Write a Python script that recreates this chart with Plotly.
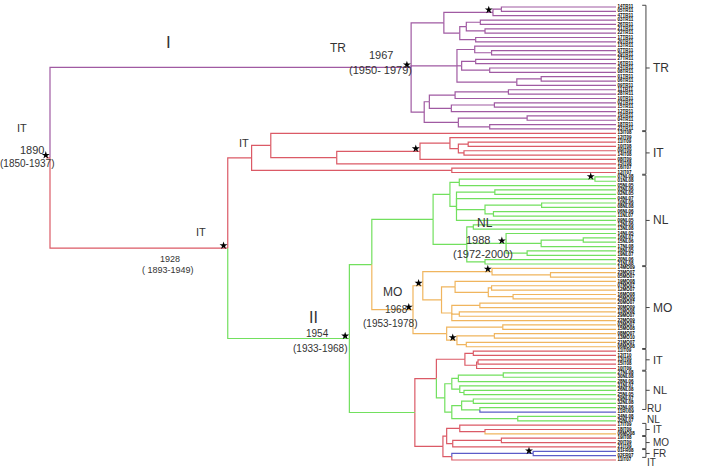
import re
import plotly.graph_objects as go

W, H = 721, 469
TIP_YEAR = 2011

# clade trees: "(children)YEAR[*][colour]"; L = tip, optional colour letter
tr_tree = ("((((L,L)1986.5,L)1984.7*,(((L,L)1982,(L,L)1983)1979,(L,L)1981)1977.6)1974.2,"
           "((L,(L,L)1984.4)1980.8,((L,L)1981,(L,L)1984)1978,((L,L)1995,L)1989.8)1977,"
           "((((L,L)1988,L)1976.6,((L,L)1985,L)1975.8)1971.1,((L,L)1992,(L,L)1984)1977.3)1970)1967.2*p")
it1_tree = "((L,(((L,((L,L)1979.4,(L,L)1978.5)1977.3)1975.5,L)1969.1*,L)1951.3)1937.2,(L,L)1975.9)1933.1r"
nl_tree = ("((((L,L)2006.5*,L)1977.5,((L,L)1985.1,L,((L,L)1995.1,(L,L)1984.8)1983,L)1976.9)1975.5,"
           "((L,L)1980.5,(L,((L,L)2004,L)1995,(L,L)1992)1987.5*,(L,L)1983)1979.1)1971.9g")
mo_tree = ("(((L,(L,L)1997)1984.5*,((L,((L,L)1984.4,(L,L)1989)1983.7)1976.6,((L,L)1981.9,(L,L)1977.5,L)1975.9)1973.7)1969.7*,"
           "((L,L)1986.8,((L,L)1985,(L,L)1979)1977*)1974.8)1967.6*o")
it2_tree = "((L,L)1980.5,((L,L)1981.5,L)1981.2)1978.7"
nl2_tree = "((((L,L)1986.9,L)1977.3,(L,(L,L)1978.5)1977.6)1975.9,(((L,L)1980.5,(L,Lb)1981.9)1978,(L,L)1990)1975.9)1974.4g"
bottom_tree = "(((L,(L,Lo)1983)1977.6,((L,L)1986.5,L)1976.1)1974.8,((L,L)1993.3*b,L)1975.9)1974r"

lower_tree = "((%s,%s)1972.6r,%s)1968g" % (it2_tree, nl2_tree, bottom_tree)
green_tree = "((%s,%s)1958.8g,%s)1954*g" % (nl_tree, mo_tree, lower_tree)
full_tree = "(%s,(%s,%s)1928*r)1890*r" % (tr_tree, it1_tree, green_tree)

tr_tips = ("14TR11 05TR11 47TR11 03TR11 26TR11 21TR11 22TR11 17TR11 20TR11 13TR11 07TR11 29TR11 27TR11 16TR11 "
           "24TR11 08TR11 01TR11 06TR11 09TR11 11TR11 28TR11 10TR11 02TR11 15TR11 12TR11 19TR11 04TR11 18TR11 23TR11").split()
it1_tips = "13IT08 12IT09 11IT09 10IT08 09IT09 14IT08 08IT09 15IT08 16IT07 12IT07".split()
nl_tips = ("07NL08 01NL08 05NL05 03NL06 02NL05 04NL07 10NL06 08NL08 06NL06 11NL07 09NL05 12NL06 13NL08 14NL05 "
           "16NL07 15NL06 17NL08 18NL05 19NL07 20NL06 21NL08").split()
mo_tips = ("14MO09 23MO07 05MO07 19MO08 07MO07 12MO07 16MO08 25MO09 20MO07 30MO09 11MO08 29MO07 22MO09 03MO07 "
           "15MO08 08MO07 13MO10 21MO07 06MO08").split()
lower_tips = ("11IT09 12IT10 13IT09 15IT08 10IT09 27NL08 30NL08 28NL06 31NL07 26NL08 25NL05 29NL07 32NL08 33NL06 "
              "11RU09 34NL08 35NL07 17IT09 18IT09 06MO08 19IT08 20IT09 21IT09 01FR08 02FR07 11IT07").split()
tip_labels = tr_tips + it1_tips + nl_tips + mo_tips + lower_tips

# (label, first tip, last tip, bracket?)
clade_groups = [("TR", 0, 28, True), ("IT", 29, 38, True), ("NL", 39, 59, True), ("MO", 60, 78, True),
                ("IT", 79, 83, True), ("NL", 84, 92, True), ("RU", 93, 93, False), ("NL", 94, 95, False),
                ("IT", 96, 98, True), ("MO", 99, 101, True), ("FR", 102, 103, True), ("IT", 104, 104, False)]

COLORS = {"p": "#a05aa2", "r": "#db5a66", "g": "#72e05e", "o": "#f0b55e", "b": "#5c5cc8"}


def parse(s):
    pos = 0
    node_re = re.compile(r"([\d.]+)(\*?)([a-z]?)")
    tip_re = re.compile(r"L([a-z]?)")

    def read():
        nonlocal pos
        if s[pos] == "(":
            pos += 1
            kids = [read()]
            while s[pos] == ",":
                pos += 1
                kids.append(read())
            pos += 1
            m = node_re.match(s, pos)
            pos = m.end()
            return {"kids": kids, "year": float(m.group(1)), "star": m.group(2) == "*", "col": m.group(3)}
        m = tip_re.match(s, pos)
        pos = m.end()
        return {"kids": [], "year": TIP_YEAR, "star": False, "col": m.group(1)}

    return read()


root = parse(full_tree)
tips = []


def place(n, col):
    n["col"] = n["col"] or col
    if not n["kids"]:
        n["y"] = len(tips)
        tips.append(n)
        return
    for k in n["kids"]:
        place(k, n["col"])
    n["y"] = (n["kids"][0]["y"] + n["kids"][-1]["y"]) / 2


place(root, "r")

segs = {c: ([], []) for c in COLORS}
stars_x, stars_y = [], []


def draw(n):
    if n["star"]:
        stars_x.append(n["year"] - 0.9)
        stars_y.append(n["y"] - 0.6)
    for k in n["kids"]:
        xs, ys = segs[k["col"]]
        xs += [n["year"], n["year"], k["year"], None]
        ys += [n["y"], k["y"], k["y"], None]
        draw(k)


draw(root)
segs["r"][0].extend([root["year"] - 0.8, root["year"], None])
segs["r"][1].extend([root["y"], root["y"], None])

fig = go.Figure()
for c, (xs, ys) in segs.items():
    fig.add_trace(go.Scatter(x=xs, y=ys, mode="lines", line=dict(color=COLORS[c], width=1.2),
                             hoverinfo="skip"))

fig.add_trace(go.Scatter(x=stars_x, y=stars_y, mode="markers",
                         marker=dict(symbol="star", size=6, color="black")))

fig.add_trace(go.Scatter(x=[TIP_YEAR + 0.3] * len(tips), y=[t["y"] for t in tips], mode="text",
                         text=tip_labels, textposition="middle right",
                         textfont=dict(size=4.5, color="black", family="Arial", weight="bold")))

# brackets and country labels on the right
BR_X, BR_L, BR_R = 2017.4, 2016.6, 2018.2
label_shift = {93: 4, 94: -1, 104: -3}
bx, by = [], []
for name, a, b, bracket in clade_groups:
    mid = (a + b) / 2
    if bracket:
        bx += [BR_L, BR_X, BR_X, BR_L, None, BR_X, BR_R, None]
        by += [a - 0.4, a - 0.4, b + 0.4, b + 0.4, None, mid, mid, None]
    fig.add_annotation(x=2018.4 if bracket else 2017.1, y=mid, text=name, showarrow=False,
                       xanchor="left", yanchor="middle", yshift=label_shift.get(a, 0),
                       font=dict(size=12 if a < 79 else (11 if a < 93 else 10), color="#333"))
fig.add_trace(go.Scatter(x=bx, y=by, mode="lines", line=dict(color="#444", width=1)))

# node annotations (pixel centre positions)
node_text = [
    ("I", 168, 42, 17), ("TR", 338, 48, 12), ("1967", 381, 55, 11), ("(1950- 1979)", 380, 70, 11),
    ("IT", 22, 128, 11), ("1890", 32, 150, 11), ("(1850-1937)", 27, 163, 10),
    ("IT", 244, 143, 11), ("IT", 201, 232, 11), ("1928", 170, 259, 9), ("( 1893-1949)", 168, 270, 9),
    ("II", 313, 317, 16), ("1954", 317, 333, 10), ("(1933-1968)", 320, 348, 10),
    ("MO", 392, 292, 12), ("1968", 396, 309, 10), ("(1953-1978)", 390, 323, 10),
    ("NL", 485, 223, 12), ("1988", 478, 240, 11), ("(1972-2000)", 483, 254, 11),
]
for t, px, py, sz in node_text:
    fig.add_annotation(x=px / W, y=1 - py / H, xref="paper", yref="paper", text=t, showarrow=False,
                       xanchor="center", yanchor="middle", font=dict(size=sz, color="#333"))

PPY = 566 / (TIP_YEAR - 1890)
ROW = 4.35
fig.update_layout(
    width=W, height=H, margin=dict(l=0, r=0, t=0, b=0),
    paper_bgcolor="white", plot_bgcolor="white", showlegend=False,
    font=dict(family="Arial"),
    xaxis=dict(range=[1890 - 50 / PPY, 1890 + 671 / PPY], visible=False),
    yaxis=dict(range=[len(tips) - 1 + 9 / ROW, -7 / ROW], visible=False),
)
fig.write_html("out.html", config={"displayModeBar": False},
               post_script="document.body.style.margin = '0';")
